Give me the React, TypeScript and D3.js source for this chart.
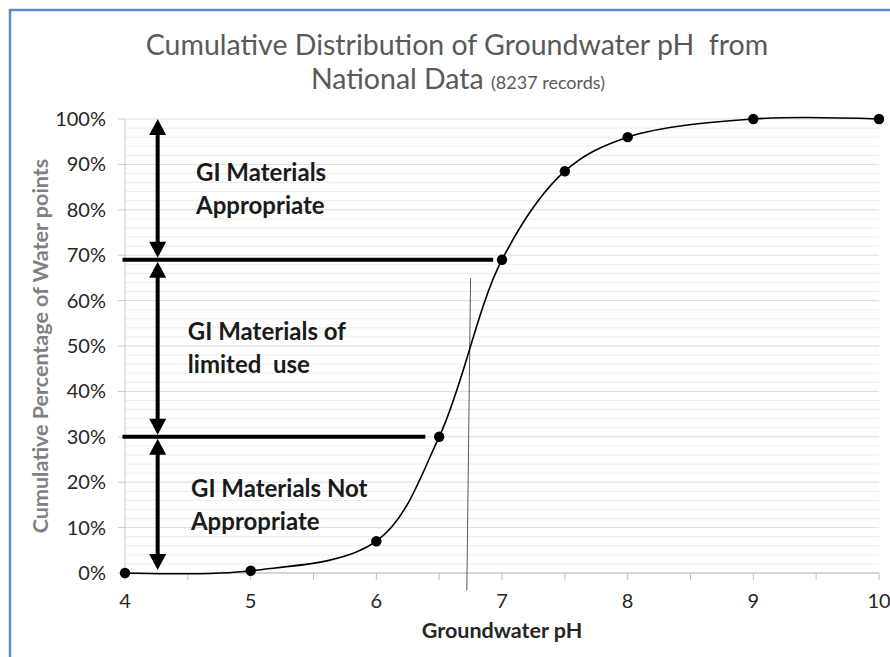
import * as d3 from "d3";

// groundwater pH vs cumulative percentage of water points
const phValues = [4, 5, 6, 6.5, 7, 7.5, 8, 9, 10];
const cumPct = [0, 0.5, 7, 30, 69, 88.5, 96, 100, 100];

const xTicks = [4, 5, 6, 7, 8, 9, 10];
const yTicks = [0, 10, 20, 30, 40, 50, 60, 70, 80, 90, 100];

// suitability bands: upper bound, lower bound, label lines
const bandTops = [100, 69, 30];
const bandBottoms = [69, 30, 0];
const bandLabels = [
  ["GI Materials", "Appropriate"],
  ["GI Materials of", "limited\u00a0 use"],
  ["GI Materials Not", "Appropriate"],
];
const thresholds = [69, 30];
const thresholdEnds = [6.93, 6.39];

const W = 890;
const H = 657;
const FONT = "Lato, 'Open Sans', sans-serif";

export default function App() {
  const x = d3.scaleLinear().domain([4, 10]).range([125, 879]);
  const y = d3.scaleLinear().domain([0, 100]).range([573, 119]);

  const points = phValues.map((p, i) => ({ ph: p, pct: cumPct[i] }));

  const line = d3
    .line<{ ph: number; pct: number }>()
    .x((d) => x(d.ph))
    .y((d) => y(d.pct))
    .curve(d3.curveCatmullRom.alpha(0.5));

  const minorGrid = d3.range(0, 101, 2);
  const xMinor = d3.range(4, 10.01, 0.5);
  const arrowX = x(4.26);
  const labelX = [4.565, 4.5, 4.525];

  const head = (tipY: number, dir: number) => {
    // dir = -1 points up, 1 points down
    const len = 16;
    const half = 8.5;
    const baseY = tipY - dir * len;
    return `M${arrowX},${tipY}L${arrowX - half},${baseY}L${arrowX + half},${baseY}Z`;
  };

  return (
    <svg
      width={W}
      height={H}
      style={{ position: "absolute", left: 0, top: 0, background: "#fff" }}
    >
      {/* frame */}
      <line x1={10} x2={W} y1={10} y2={10} stroke="#5b8bd0" strokeWidth={2.5} />
      <line x1={10} x2={10} y1={9} y2={H} stroke="#5b8bd0" strokeWidth={2.5} />

      {/* title */}
      <text x={457} y={55} textAnchor="middle" fontFamily={FONT} fontSize={28.5} fill="#595959">
        {"Cumulative Distribution of Groundwater pH\u00a0 from"}
      </text>
      <text x={458} y={89} textAnchor="middle" fontFamily={FONT} fontSize={28.5} fill="#595959">
        National Data <tspan fontSize={18}>(8237 records)</tspan>
      </text>

      {/* gridlines */}
      {minorGrid.map((v) => (
        <line
          key={"g" + v}
          x1={x(4)}
          x2={x(10)}
          y1={y(v)}
          y2={y(v)}
          stroke={v % 10 === 0 ? "#dcdcdc" : "#ececec"}
          strokeWidth={1}
        />
      ))}

      {/* axes */}
      <line x1={x(4)} x2={x(4)} y1={y(100)} y2={y(0)} stroke="#c8c8c8" />
      <line x1={x(4)} x2={x(10)} y1={y(0)} y2={y(0)} stroke="#bfbfbf" />
      {yTicks.map((v) => (
        <g key={"yt" + v}>
          <line x1={x(4) - 7} x2={x(4)} y1={y(v)} y2={y(v)} stroke="#c8c8c8" />
          <text
            x={106}
            y={y(v)}
            dy="0.35em"
            textAnchor="end"
            fontFamily={FONT}
            fontSize={20}
            fill="#262626"
          >
            {v}%
          </text>
        </g>
      ))}
      {xMinor.map((v) => (
        <line key={"xt" + v} x1={x(v)} x2={x(v)} y1={y(0)} y2={y(0) + 7} stroke="#bfbfbf" />
      ))}
      {xTicks.map((v) => (
        <text
          key={"xl" + v}
          x={x(v)}
          y={608}
          textAnchor="middle"
          fontFamily={FONT}
          fontSize={20}
          fill="#262626"
        >
          {v}
        </text>
      ))}

      <text
        x={x(7)}
        y={638}
        textAnchor="middle"
        fontFamily={FONT}
        fontWeight="bold"
        fontSize={21.5}
        fill="#262626"
      >
        Groundwater pH
      </text>
      <text
        transform={`translate(48,${y(50)}) rotate(-90)`}
        textAnchor="middle"
        fontFamily={FONT}
        fontWeight="bold"
        fontSize={21.5}
        fill="#808080"
      >
        Cumulative Percentage of Water points
      </text>

      {/* thin marker line near pH 6.75 */}
      <line
        x1={x(6.75)}
        x2={x(6.72)}
        y1={y(65)}
        y2={y(-3.8)}
        stroke="#595959"
        strokeWidth={1}
      />

      {/* threshold lines */}
      {thresholds.map((t, i) => (
        <line
          key={"th" + t}
          x1={x(3.98)}
          x2={x(thresholdEnds[i])}
          y1={y(t)}
          y2={y(t)}
          stroke="#000"
          strokeWidth={4}
        />
      ))}

      {/* double arrows */}
      {bandTops.map((top, i) => {
        const yTop = y(top) + (i === 0 ? 0 : 2);
        const yBot = y(bandBottoms[i]) - (i === 2 ? 3 : 2);
        return (
          <g key={"ar" + i}>
            <line
              x1={arrowX}
              x2={arrowX}
              y1={yTop + 10}
              y2={yBot - 10}
              stroke="#000"
              strokeWidth={4}
            />
            <path d={head(yTop, -1)} fill="#000" />
            <path d={head(yBot, 1)} fill="#000" />
          </g>
        );
      })}

      {/* band labels */}
      {bandLabels.map((lines, i) => {
        const mid = (bandTops[i] + bandBottoms[i]) / 2;
        return (
          <text
            key={"bl" + i}
            x={x(labelX[i])}
            y={y(mid)}
            fontFamily={FONT}
            fontWeight="bold"
            fontSize={24}
            fill="#1a1a1a"
          >
            <tspan x={x(labelX[i])} dy={-8}>
              {lines[0]}
            </tspan>
            <tspan x={x(labelX[i])} dy={33}>
              {lines[1]}
            </tspan>
          </text>
        );
      })}

      {/* curve + points */}
      <path d={line(points) ?? ""} fill="none" stroke="#000" strokeWidth={1.6} />
      {points.map((d) => (
        <circle key={"p" + d.ph} cx={x(d.ph)} cy={y(d.pct)} r={5.2} fill="#000" />
      ))}
    </svg>
  );
}
